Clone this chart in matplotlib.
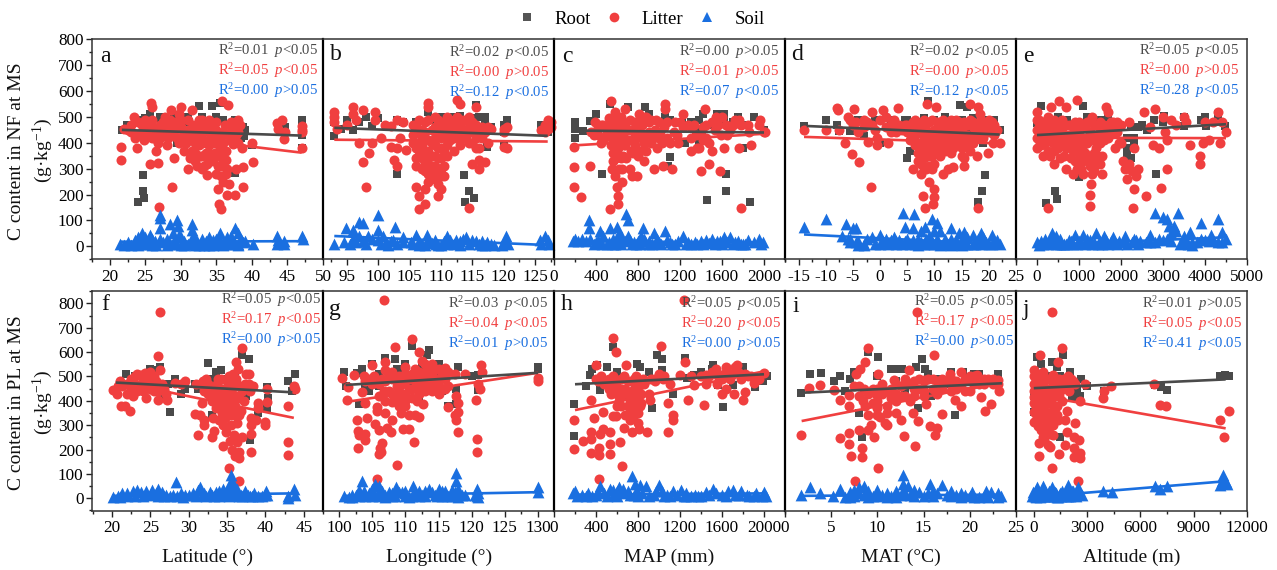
import matplotlib
matplotlib.use("Agg")
import matplotlib.pyplot as plt
from matplotlib.lines import Line2D
from matplotlib.ticker import MultipleLocator

plt.rcParams['font.family'] = ['Liberation Serif', 'DejaVu Serif']
plt.rcParams['mathtext.fontset'] = 'custom'
plt.rcParams['mathtext.rm'] = 'Liberation Serif'
plt.rcParams['mathtext.it'] = 'Liberation Serif:italic'
plt.rcParams['mathtext.bf'] = 'Liberation Serif:bold'
plt.rcParams['axes.unicode_minus'] = False

GREY, RED, BLUE = '#4a4a4a', '#f03f3f', '#1a6fe0'
W, H = 1277, 570

# ---------- panel a
a_root = [(21.7,450),(22.4,470),(24.6,490),(25.7,510),(27.2,495),(28.5,470),(30,495),(31.2,480),(32.5,543),(34.4,543),(34.8,480),(35.5,555),(37.6,490),(38.8,460),(38.9,425),(40,390),(44.6,460),(47,490),(47,470),(47,430),(47,380),(24.7,275),(24.7,215),(24,170),(24.8,185),(37.6,282),(33,460),(26.5,440),(36,370),(29.5,400),(23,470),(25,495),(27,500),(29,505),(31,500),(33,500),(35,500),(36,490),(38,480),(39,450),(38.5,420)]
a_litter = [(21.6,335),(21.6,385),(22,455),(23.4,500),(23.8,380),(24,480),(24.5,470),(25,490),(25.6,320),(25.8,555),(26,540),(26.2,420),(26.5,370),(26.8,322),(26.9,152),(27,470),(27.5,480),(28,390),(28.6,525),(28.8,228),(29,340),(29.2,480),(29.7,510),(29.8,400),(30,540),(30.5,370),(31,300),(31.2,420),(31.5,525),(32,360),(32.3,310),(32.5,490),(33,450),(33.3,310),(33.5,400),(33.7,275),(34,490),(34,360),(34.3,420),(35,480),(35,280),(35.2,220),(35.4,165),(35.6,145),(35.8,560),(35.5,350),(35.7,310),(36,400),(36,250),(36.4,335),(36.5,200),(36.7,545),(36.8,240),(37,440),(37.3,395),(37.6,200),(37.8,300),(38,490),(38,400),(38.6,380),(38.7,305),(38.8,228),(40.2,325),(40,400),(43.5,475),(43.6,455),(44.2,490),(44.5,415),(44.7,440),(47,380),(47,440),(47,465),(47,450),(23,440),(24,430),(25,440),(26,460),(27,420),(28,460),(29,430),(30,460),(31,490),(31.5,370),(32,430),(33,490),(33,350),(34.5,330),(35,430),(32.5,390),(33.8,450),(36.2,470),(37,480)]
a_litter2 = [(22.5,450),(23,470),(23.5,420),(24.5,440),(24.8,410),(25.3,460),(25.5,425),(26,490),(26.5,440),(26.8,400),(27.5,440),(27.8,500),(28.2,420),(28.5,490),(29,460),(29.5,420),(30,490),(30.3,430),(30.7,400),(31,450),(31.3,340),(31.7,470),(32,400),(32,330),(32.3,460),(32.7,350),(33,420),(33,300),(33.3,470),(33.5,360),(33.7,320),(34,440),(34,390),(34.5,470),(34.7,400),(34.8,360),(35,450),(35.2,310),(35.5,420),(35.5,380),(35.8,340),(36,440),(36.3,370),(36.5,300),(36.7,430),(37,410),(37.3,460),(37.7,430),(38,440),(38.3,470),(35.7,270),(36,320),(36.3,280),(31.5,450),(33,400),(34,330),(32.5,440),(30,420),(28.5,450),(26,420)]
a_soil = [(21.5,10),(22.5,15),(23.5,25),(24,15),(24.6,50),(25,20),(25.7,45),(26.4,20),(27,120),(27,110),(27,70),(27.1,30),(28.5,85),(28.9,50),(29.5,100),(29.6,80),(29.7,45),(30.5,20),(31.5,85),(31.6,65),(31.7,40),(32.3,20),(33,30),(33.5,20),(34,35),(34.5,25),(35.5,50),(36,15),(36.5,35),(37,25),(37.6,70),(38,50),(38.5,30),(39,20),(40.2,10),(43.5,40),(43.6,25),(44.5,20),(47,40),(47.2,30),(24,5),(26,5),(28,5),(30,5),(32,5),(34,5),(36,5),(38,5)]
a_soil2 = [(22,5),(23,5),(24.5,10),(25.5,10),(26.5,5),(27.5,15),(28.5,10),(29,20),(29.5,8),(30.5,5),(31,10),(31.5,15),(32.5,5),(33.2,5),(33.8,8),(34.5,5),(35,10),(35.5,20),(36.5,8),(37,10),(37.5,15),(38,10),(38.7,15),(43.5,10),(44.5,8),(26,30),(28,30),(30,35),(32,30),(35,30),(37,40),(24,35),(25,35)]
a_root_fit = [(21.7,450),(47,428)]
a_litter_fit = [(21.7,445),(47,362)]
a_soil_fit = [(21.5,18),(47,20)]

# ---------- panel b
b_root = [(93,425),(93,480),(94,455),(96,450),(97,480),(99,465),(100,495),(102,460),(103,280),(103,490),(104,480),(106,475),(107,340),(108,520),(108.5,490),(110,495),(112,500),(113,450),(113.7,275),(113.8,170),(114.5,215),(115.3,185),(115.5,545),(116,500),(117,500),(117.3,385),(118,460),(120.5,490),(120,390),(120,440),(126,470),(127,440),(127.5,480),(95,490),(98,500),(106,480),(110,500),(113,505),(115,495),(117,480),(120,470),(126,460)]
b_litter = [(93,520),(93,500),(93,480),(93.5,455),(95,470),(96,540),(96,510),(96.5,490),(97,400),(97.5,325),(97.5,525),(98,228),(98.5,360),(99,400),(99.5,520),(99.5,490),(100.5,420),(101,470),(102,465),(102,385),(102.5,335),(103,380),(103,310),(103,488),(103.5,420),(104,480),(104.5,372),(106,310),(106,230),(106.5,195),(106.5,145),(107.5,220),(107.5,165),(108,555),(108,540),(109.5,195),(109.5,240),(110,220),(110.5,270),(113,550),(112.5,565),(114.5,150),(115.5,540),(115,320),(116,335),(116,300),(117,325),(117.5,460),(117.5,400),(118,455),(120,455),(120,385),(120.5,380),(120.5,460),(120,440),(126,450),(126.5,470),(127,490),(127,455),(127.5,480),(127.5,460),(126.5,440),(106,470),(107,420),(107.5,360),(108,300),(108.5,450),(109,390),(109.5,340),(110,460),(110.5,310),(111,420),(111.5,490),(112,370),(112,460),(113,420),(113.5,490),(114,450),(114.5,400),(115,480),(115.5,420),(116,380),(109,280),(108,250),(106.5,400),(105.5,430),(106,340),(107,300),(110,380),(109,500),(108.5,350),(107.5,480)]
b_litter2 = [(105.5,470),(106,440),(106,400),(106.5,370),(106.5,490),(107,450),(107,390),(107,340),(107.5,440),(107.5,320),(108,490),(108,410),(108,370),(108,340),(108.5,400),(108.5,310),(108.5,280),(109,460),(109,420),(109,350),(109,310),(109.5,490),(109.5,430),(109.5,380),(109.5,300),(110,420),(110,340),(110,300),(110.5,480),(110.5,430),(110.5,370),(111,460),(111,390),(111,500),(111.5,450),(111.5,410),(112,490),(112,420),(112.5,470),(112.5,430),(112.5,500),(113,460),(113,390),(113.5,450),(114,490),(114,420),(114.5,500),(114.5,460),(115,440),(115,400),(115.5,470),(115.5,380),(116,440),(116.5,420),(116.5,460),(117,440),(105.5,400),(106,380),(108,280),(107.5,290),(109,260),(111,350),(110,270)]
b_soil = [(93,10),(94.8,70),(96,65),(97,95),(97.6,90),(96.5,15),(98.3,40),(100,120),(100,65),(100.7,40),(101.3,15),(102.7,75),(103.9,35),(102.4,25),(105.2,15),(106,45),(107.8,45),(109.2,10),(111,40),(112.4,25),(114,35),(115.6,20),(117.4,15),(120.3,40),(119.7,5),(125.7,25),(126.6,40),(127.2,10),(106.5,5),(110,5),(113,5),(116.5,5)]
b_soil2 = [(94.5,15),(95.5,10),(96,30),(97,40),(97.5,20),(98,10),(99,30),(100,25),(100.5,10),(101.5,5),(102,20),(103,10),(104,15),(105.5,8),(106.5,20),(107,10),(107.5,5),(108,25),(108.5,12),(109,25),(109.5,5),(110.5,20),(111,8),(111.5,25),(112,8),(113,20),(113.5,30),(114.5,10),(115,25),(116,10),(116.5,20),(117,5),(118,8),(118.5,5),(120,15),(120.7,10),(126,8),(127,25)]
b_root_fit = [(93,458),(127,427)]
b_litter_fit = [(93,412),(127,405)]
b_soil_fit = [(93,40),(127,5)]

# ---------- panel c
c_root = [(200,480),(200,455),(200,420),(280,445),(340,485),(530,550),(700,540),(870,540),(1060,500),(1060,470),(460,280),(1100,345),(1220,480),(1250,400),(1350,450),(1380,400),(1380,490),(1460,180),(1640,280),(1640,215),(1620,490),(1700,480),(1870,170),(1830,470),(1800,380),(1960,480),(2000,450),(1090,310),(600,380),(800,480),(1500,470),(400,510),(600,500),(900,510),(1100,490),(1300,480),(1420,510),(1550,510),(1620,510),(1750,500),(1900,500)]
c_litter = [(190,385),(190,305),(190,228),(260,190),(340,310),(390,480),(420,460),(450,400),(470,470),(520,495),(530,145),(540,560),(550,300),(560,330),(570,480),(580,270),(580,520),(600,400),(600,230),(610,195),(610,165),(620,300),(640,500),(650,250),(660,350),(680,530),(700,450),(720,300),(740,270),(760,420),(780,470),(790,270),(810,510),(820,370),(840,470),(860,330),(880,430),(900,480),(920,400),(950,300),(960,450),(1000,420),(1040,310),(1060,550),(1060,530),(1080,420),(1120,300),(1140,440),(1180,400),(1230,510),(1280,470),(1300,370),(1350,430),(1380,380),(1400,290),(1420,410),(1440,530),(1450,470),(1480,320),(1500,370),(1540,500),(1580,290),(1590,430),(1620,380),(1640,470),(1680,450),(1760,380),(1760,490),(1780,150),(1860,440),(1880,390),(1960,490),(2000,440),(1950,470),(2010,440),(1300,460),(1200,480),(680,390),(750,360),(830,430),(600,460),(500,440),(550,420),(640,340),(880,500),(1000,480),(580,370)]
c_litter2 = [(350,440),(380,430),(420,430),(450,470),(480,420),(520,450),(540,480),(540,390),(560,440),(560,360),(590,490),(590,420),(590,340),(610,380),(620,450),(620,350),(630,410),(650,480),(650,300),(660,430),(670,390),(680,470),(690,340),(710,410),(720,490),(730,370),(740,450),(770,480),(770,390),(790,440),(800,350),(820,490),(840,420),(860,400),(860,500),(880,370),(900,440),(920,490),(940,420),(970,490),(980,380),(1010,440),(1030,400),(1050,460),(1080,480),(1100,400),(1150,480),(1170,430),(1230,460),(1300,420),(1330,470),(1360,380),(1400,430),(1420,460),(1450,420),(1480,400),(1500,480),(1530,450),(1560,470),(1600,500),(1650,430),(1700,470),(1720,490),(1780,470),(1850,470)]
c_soil = [(180,20),(200,30),(270,30),(330,100),(330,70),(340,30),(400,15),(440,60),(470,40),(530,70),(560,30),(600,75),(620,50),(650,35),(690,125),(700,100),(700,40),(760,15),(830,40),(850,70),(870,20),(950,50),(1000,15),(1060,60),(1100,15),(1230,40),(1280,15),(1340,15),(1400,20),(1450,25),(1500,30),(1550,20),(1620,35),(1680,35),(1720,15),(1800,10),(1850,25),(1950,30),(1990,15),(500,10),(580,8),(900,10),(1150,8),(1600,8),(1780,8)]
c_soil2 = [(230,20),(300,20),(380,10),(420,25),(460,10),(520,15),(560,10),(600,30),(640,10),(680,20),(720,25),(740,10),(780,8),(800,20),(820,8),(860,30),(900,20),(930,10),(980,30),(1020,8),(1080,25),(1120,8),(1180,20),(1260,10),(1300,8),(1360,8),(1420,8),(1480,12),(1530,10),(1580,20),(1650,15),(1700,10),(1750,20),(1820,10),(1900,15),(1970,8)]
c_root_fit = [(270,447),(2000,440)]
c_litter_fit = [(190,390),(2000,435)]
c_soil_fit = [(180,20),(2000,15)]

# ---------- panel d
d_root = [(-14,465),(-10,490),(-8,470),(-7.5,445),(-5.5,445),(-3,425),(-1,490),(0,400),(3,460),(4.5,490),(5,340),(5.5,370),(8.8,560),(10,490),(12,485),(14.7,545),(16,540),(18,170),(18.8,215),(19.3,275),(21,490),(22,450),(19,400),(7.5,480),(15,490),(18,470),(16,450),(12,430),(10,380),(-2,470),(-4,490),(2,490),(5,490),(8,495),(12,500),(14,490),(17,495),(20,490)]
d_litter = [(-14,448),(-10,450),(-8,535),(-7.8,525),(-7.5,450),(-6.5,400),(-6,500),(-5.5,490),(-5.2,355),(-4.8,530),(-4.5,480),(-3.8,325),(-3,490),(-2.5,480),(-2.3,405),(-1.7,228),(-1.5,520),(-1,450),(-0.6,390),(0.5,525),(1,500),(1.5,400),(2,470),(3,440),(3.3,535),(5,470),(5,440),(6,480),(6,300),(6.5,390),(7,330),(7.5,280),(7.8,195),(8,420),(8.3,150),(8.7,550),(9,350),(9,250),(9.3,440),(9.5,300),(9.7,165),(10,220),(10,190),(10.2,540),(10.5,430),(11,480),(11,380),(11.5,280),(12,370),(12.5,300),(13,450),(13.5,305),(14,490),(14,400),(15,440),(15.5,340),(15.5,310),(16,430),(16.5,550),(17,460),(17.8,350),(18,150),(18,540),(18.3,510),(19,470),(19.8,360),(20.5,480),(20.7,400),(21,430),(22,400),(7,440),(8,380),(9,480),(10,400),(11,440),(12,440),(13,390),(14,470),(15,400),(16,390),(17,420),(18,470),(19,420),(20,440),(8.5,300),(8,470),(21.5,450),(6,420)]
d_litter2 = [(-5,470),(-4,440),(-3,460),(-1.5,470),(-0.5,420),(0,490),(1,460),(2,440),(2.5,490),(3.5,470),(4,450),(4.5,470),(5.5,410),(6,450),(6.5,490),(6.5,430),(7,470),(7,400),(7,360),(7.5,440),(7.5,320),(8,490),(8,340),(8,300),(8.5,450),(8.5,400),(8.5,360),(9,420),(9,380),(9,310),(9.5,490),(9.5,400),(9.5,350),(10,450),(10,370),(10,320),(10.5,480),(10.5,390),(11,460),(11,410),(11.5,490),(11.5,420),(12,480),(12,400),(12.5,460),(12.5,410),(13,490),(13,420),(13.5,470),(13.5,380),(14,440),(14.5,480),(14.5,420),(15,470),(15,380),(15.5,480),(15.5,430),(16,470),(16,400),(16.5,490),(16.5,420),(17,480),(17,400),(17.5,440),(18,420),(18.5,490),(18.5,450),(19.5,470),(20,490),(21,470),(7.5,390),(11,350),(13,360),(15,350),(16.5,370)]
d_soil = [(-14,75),(-10,105),(-6.3,85),(-5,70),(-4.5,70),(-6,30),(-7,40),(-5.5,15),(-4,20),(-3,10),(-2.5,30),(-1.5,35),(0,45),(0.5,20),(1,30),(2.5,35),(3,20),(4.2,130),(4.5,75),(4.5,20),(5,30),(6,70),(6.2,125),(7,30),(7.5,60),(8.2,75),(9,40),(9.5,105),(10,60),(10.5,90),(10.7,15),(11,60),(12,15),(13,70),(13.5,10),(14.5,50),(15.5,55),(15.5,10),(17,45),(18.5,50),(17,10),(19,35),(20.5,45),(20,10),(21,20),(22,10),(7,5),(11,5),(13,5),(15,5)]
d_soil2 = [(-4,5),(-3,5),(-1,10),(0,8),(1.5,8),(2,25),(3,8),(3.5,25),(4,10),(5.5,10),(6,25),(6.5,8),(7.5,15),(8,8),(8.5,30),(9,10),(9.5,20),(10,8),(10.5,30),(11.5,10),(12,30),(12.5,8),(13,30),(14,8),(14,25),(15,30),(16,10),(16,35),(17.5,8),(18,30),(18.5,8),(19.5,15),(20.5,10),(21.5,25),(-5.5,30),(-4.5,15)]
d_root_fit = [(-13.5,465),(22,432)]
d_litter_fit = [(-14,423),(21.5,398)]
d_soil_fit = [(-14,46),(22,8)]

# ---------- panel e
e_root = [(96,541),(1100,541),(440,213),(215,168),(480,183),(2830,278),(1000,267),(2150,352),(2230,462),(2000,462),(2400,462),(2310,420),(2630,450),(2790,490),(3900,490),(4310,505),(4470,465),(4020,465),(3020,505),(3500,465),(0,475),(720,490),(1200,500),(1500,490),(2150,420),(2310,400),(2150,380),(2230,340),(2500,470),(3000,480),(3500,500),(4000,500),(4300,510),(500,500),(1700,500)]
e_litter = [(0,520),(50,490),(60,400),(100,470),(200,430),(250,150),(270,500),(300,350),(330,540),(350,480),(380,400),(400,320),(450,440),(500,470),(530,560),(550,340),(600,400),(700,540),(700,300),(700,430),(750,470),(800,340),(850,280),(900,420),(960,565),(1000,480),(1000,360),(1050,300),(1100,420),(1150,460),(1200,340),(1250,200),(1250,155),(1280,240),(1300,500),(1300,280),(1350,360),(1400,430),(1450,470),(1500,320),(1550,280),(1600,410),(1650,540),(1700,520),(1750,480),(1800,440),(1850,380),(1900,440),(1950,400),(2000,400),(2050,330),(2100,300),(2150,260),(2200,320),(2200,480),(2250,290),(2280,150),(2300,220),(2300,380),(2350,270),(2400,300),(2600,195),(2550,520),(2700,460),(2750,390),(2800,530),(2900,380),(2950,225),(3000,500),(3050,440),(3100,410),(3100,300),(3200,490),(3300,470),(3500,500),(3550,480),(3650,390),(3880,350),(3880,320),(3950,400),(4000,480),(4100,410),(4200,480),(4300,520),(4350,400),(4400,480),(4500,440),(150,350),(500,380),(800,470),(900,330),(1100,370),(1400,320),(1500,440),(1700,420),(300,410),(650,350),(1000,430)]
e_litter2 = [(0,490),(0,450),(0,420),(0,380),(50,460),(100,430),(100,390),(150,480),(150,440),(200,470),(200,400),(250,450),(250,370),(300,480),(300,440),(350,420),(400,490),(400,450),(400,370),(450,480),(450,400),(500,430),(550,470),(550,400),(600,490),(600,440),(650,420),(700,470),(700,380),(750,430),(800,400),(850,460),(850,370),(900,480),(950,440),(950,390),(950,300),(1000,330),(1050,470),(1050,400),(1100,330),(1100,280),(1150,420),(1150,360),(1200,480),(1200,400),(1250,440),(1250,310),(1300,410),(1300,340),(1350,470),(1350,290),(1400,380),(1450,350),(1500,480),(1500,400),(1550,440),(1550,350),(1600,470),(1650,430),(1700,470),(1750,440),(1800,480),(1850,450),(1900,480),(2000,470)]
e_soil = [(0,15),(100,20),(200,30),(300,25),(350,50),(450,40),(550,30),(650,10),(800,20),(900,45),(1000,20),(1100,45),(1200,30),(1400,50),(1500,20),(1600,40),(1800,35),(1700,10),(2100,40),(2300,30),(2600,15),(2700,45),(2800,130),(3000,115),(3100,105),(3150,80),(3200,50),(3350,130),(3300,60),(3400,10),(3500,40),(3700,15),(3650,55),(3900,90),(3900,30),(4150,45),(4300,105),(4300,15),(4400,55),(4500,30),(600,10),(1300,10),(1900,10),(2400,10),(3600,10),(4000,25)]
e_soil2 = [(50,5),(150,10),(250,10),(350,15),(450,10),(550,8),(700,8),(750,25),(850,10),(950,10),(1050,15),(1150,10),(1250,25),(1350,15),(1450,10),(1550,10),(1650,25),(1750,20),(1850,15),(1950,20),(2050,15),(2150,10),(2250,15),(2350,25),(2450,20),(2700,15),(2800,15),(2900,30),(3000,25),(3100,30),(3200,20),(3500,15),(3700,5),(3800,15),(4100,20),(4200,25),(4400,15),(3250,80)]
e_root_fit = [(0,430),(4500,472)]
e_litter_fit = [(0,420),(4500,418)]
e_soil_fit = [(0,5),(4500,35)]

# ---------- panel f
f_root = [(21,460),(21.8,510),(22.5,440),(25.5,525),(26.3,540),(26.7,410),(27.3,470),(27.6,355),(28.2,490),(29,430),(29.5,450),(30.8,470),(31.2,450),(32.5,555),(33,340),(33.5,520),(34.2,525),(35,490),(35.5,360),(36.3,470),(37,590),(37.5,420),(37.8,570),(38,240),(38.3,460),(39,380),(39,350),(40.2,455),(40.3,410),(40.2,370),(42.9,480),(43.8,510),(43.5,440),(23,500),(25,530),(33,490),(36,500)]
f_litter = [(20.2,445),(20.6,430),(21,480),(21.2,380),(21.7,380),(21.9,430),(22.3,360),(22.5,490),(22.7,420),(23,500),(23.3,510),(23.5,460),(23.8,505),(24,440),(24.3,515),(24.5,410),(24.7,490),(25,520),(25.3,470),(25.5,440),(25.8,480),(26,405),(26,585),(26.3,765),(26.3,525),(26.5,470),(26.8,450),(27.2,405),(28.2,475),(29,470),(29.5,480),(30.8,345),(31,470),(31.2,260),(31.5,340),(31.7,390),(31.9,480),(32,300),(32,320),(32.3,490),(32.5,430),(33,250),(33.3,275),(33.5,370),(33.7,470),(34,320),(34,440),(34.2,490),(34.5,300),(34.5,215),(34.7,380),(34.8,270),(35,480),(35,400),(35,340),(35.2,125),(35.4,235),(35.5,300),(35.5,440),(35.7,200),(35.8,510),(35.9,260),(36,380),(36,175),(36.2,560),(36.3,310),(36.3,230),(36.4,530),(36.5,72),(36.6,190),(36.6,165),(37,615),(37,250),(37.4,470),(37.5,510),(37.8,510),(38.1,330),(38.1,300),(38.1,265),(38.1,188),(38.4,460),(38.8,320),(39,390),(39,370),(40,315),(40,300),(40.2,395),(40.2,450),(42.9,380),(42.9,230),(42.9,177),(43.7,460),(43.8,450),(33,400),(33.8,420),(34.4,350),(34.9,430),(35.3,360),(35.6,390),(35.8,470),(36.2,420),(36.7,460),(36.6,340)]
f_litter2 = [(20.8,460),(21.3,460),(22,470),(22.5,450),(23,470),(23.3,440),(24,480),(24.5,460),(25,450),(25.5,500),(26,440),(27,430),(31.5,470),(32,440),(32.5,470),(33,440),(33.2,330),(33.5,420),(33.8,490),(34,370),(34,400),(34.3,450),(34.5,420),(34.7,330),(35,450),(35.2,500),(35.3,420),(35.5,340),(35.7,430),(36,460),(36,340),(36.2,490),(36.5,410),(36.8,360),(37,440),(37.2,400),(37.8,470),(38,440)]
f_soil = [(20.2,5),(20.8,10),(21.3,20),(22,10),(22.7,30),(23.3,35),(23.8,25),(24.4,30),(25.2,35),(25.8,20),(26,40),(26.5,25),(27,15),(28.3,65),(28,15),(29,20),(29.5,15),(31.2,35),(31.5,45),(31.7,15),(32.3,10),(33,15),(33.5,25),(34,30),(34.5,40),(34.8,15),(35.2,55),(35.5,95),(35.6,70),(35.8,45),(36,20),(36.3,40),(36.8,15),(37.3,30),(38,10),(38.5,20),(39,10),(40.1,30),(40.2,12),(42.9,0),(43.7,40),(43.8,15)]
f_soil2 = [(21,5),(22,20),(23,10),(24,10),(25,15),(26,8),(26.8,8),(27.5,8),(28.5,8),(29.2,5),(30,15),(31,10),(32,20),(32.8,25),(33.3,8),(34,10),(34.3,15),(35,30),(35.3,10),(35.7,15),(36,30),(36.6,8),(37,10),(37.7,15),(38.2,8),(39.5,8),(40,15),(43,10),(30.5,20)]
f_root_fit = [(20.5,475),(43.5,435)]
f_litter_fit = [(20.5,480),(43.7,330)]
f_soil_fit = [(20,10),(43.5,20)]

# ---------- panel g
g_root = [(100.7,520),(101,460),(102.7,515),(103,385),(103.5,530),(104,460),(104.6,440),(105,550),(105.8,495),(106,460),(107,575),(108.5,570),(108.7,530),(109,410),(110,550),(111,625),(111,470),(112,400),(113.2,590),(113.5,610),(114,500),(115,550),(115.5,440),(116.5,380),(117.7,450),(118,540),(121,505),(121,445),(130,540),(130,530),(117.7,385),(112.5,540),(106,510),(110,530),(115,500),(120,500)]
g_litter = [(100.5,495),(101.2,405),(101.4,455),(102.3,505),(102.7,320),(102.8,275),(102.8,205),(103,260),(103.5,435),(103.8,500),(104,240),(104,265),(104,390),(104.2,330),(104.5,490),(105,545),(105.3,500),(105.5,305),(105.7,375),(105.7,360),(105.8,80),(106,280),(106,180),(106.2,205),(106.3,190),(106.5,225),(106.8,813),(106.8,440),(106.9,560),(107,350),(107,525),(107.2,290),(107.5,510),(107.8,270),(108,395),(108,320),(108.5,622),(108.7,135),(108.7,460),(109,380),(109.3,350),(109.5,420),(109.7,285),(110,480),(110,510),(110,380),(110.5,340),(110.5,285),(111,655),(111.3,230),(111.5,340),(111.5,480),(112,600),(112,335),(112,520),(112.5,565),(112.7,385),(113,490),(113.5,540),(114,440),(114,510),(114.5,470),(115,530),(115.5,450),(116,535),(116.5,375),(116.5,460),(117.5,510),(117.5,340),(117.7,420),(117.7,320),(118,390),(118,355),(118,273),(119,510),(120.7,405),(120.8,245),(120.8,188),(121,470),(121.2,450),(121.4,545),(121.5,520),(130,495),(130,482),(109,500),(110.5,450),(111,510),(112,460),(113,520),(113.5,470),(115,490),(116,490),(108,490),(107,480),(111.7,400),(110,430),(109,440),(114,550)]
g_litter2 = [(106,470),(106.5,490),(107.5,440),(108,520),(108.5,490),(109.5,470),(110,540),(110.5,490),(111,450),(111.5,530),(112,490),(112.5,460),(113,550),(113,460),(113.5,500),(114,480),(114.5,530),(115,460),(115.5,510),(116,450),(116.5,520),(109,410),(110,400),(111,410),(108,430),(107,400),(106,420),(112,430),(113,440),(115,430),(104,480),(105,470)]
g_soil = [(100.7,10),(101.5,5),(102.5,15),(103.5,70),(103.8,30),(104.5,20),(105,40),(105.5,60),(106,50),(106.5,30),(107,15),(108,20),(108.6,45),(109.5,25),(110,10),(111.2,50),(111.5,25),(112.5,15),(113.5,40),(114.5,15),(115,40),(116,30),(117,35),(117.7,105),(117.7,70),(117.9,40),(118.5,15),(119,15),(120.8,40),(120.8,10),(121,20),(130,45),(130,25),(102,5),(106,10),(110,30),(113,10),(115.5,10),(108,8)]
g_soil2 = [(102,15),(103,10),(104,10),(105,10),(106,25),(107,5),(107.5,25),(108.5,10),(109,25),(110,20),(110.5,5),(111,10),(112,30),(112,8),(113,30),(114,25),(114.8,10),(115.5,30),(116.5,10),(117,10),(117.5,25),(118,5),(121,5),(120.5,15),(103,35),(105,25)]
g_root_fit = [(101,465),(130,515)]
g_litter_fit = [(101,395),(130,515)]
g_soil_fit = [(101,10),(130,25)]

# ---------- panel h
h_root = [(190,386),(190,256),(340,505),(405,546),(300,460),(500,540),(565,620),(790,553),(820,540),(980,590),(1025,570),(1025,525),(930,370),(680,415),(1250,575),(1265,495),(1330,505),(1135,430),(1510,545),(1565,465),(1610,375),(1800,540),(1915,455),(1995,480),(440,445),(2030,500),(1700,465),(360,530),(600,520),(900,520),(1400,520),(1500,530),(1750,510)]
h_litter = [(190,321),(190,202),(280,236),(350,186),(350,272),(350,243),(350,402),(380,330),(400,546),(430,208),(430,178),(430,79),(440,262),(470,285),(470,354),(530,270),(530,222),(530,180),(560,339),(560,658),(590,600),(590,339),(630,232),(645,134),(665,290),(685,546),(720,320),(740,272),(770,402),(810,283),(820,464),(890,272),(915,402),(1020,624),(1085,392),(1085,270),(1130,341),(1130,320),(1200,505),(1240,813),(1250,558),(1280,402),(1330,464),(1430,382),(1450,505),(1600,430),(1640,450),(1710,430),(1800,405),(1820,435),(1900,475),(2000,516),(1740,548),(1640,540),(420,480),(480,470),(520,450),(570,480),(600,430),(640,490),(680,450),(700,480),(740,430),(760,490),(790,440),(830,390),(860,470),(900,430),(950,490),(1000,510),(1040,490),(760,340),(640,380),(800,350),(700,380),(1300,500),(1500,520),(1560,500),(1620,510),(1680,490),(1750,520),(1780,490),(1850,500),(1950,490),(1450,470),(1550,470)]
h_litter2 = [(400,490),(450,500),(500,470),(520,490),(540,430),(560,500),(580,460),(600,480),(620,400),(650,450),(670,500),(700,430),(720,400),(740,480),(760,450),(780,500),(790,400),(810,470),(830,430),(850,490),(870,480),(920,490),(960,480),(1050,500),(1100,470),(1400,500),(1480,500),(1540,530),(1600,490),(1650,520),(1700,510),(1720,540),(1770,510),(1820,510),(1880,500),(600,380),(640,420),(680,340),(720,350),(760,380),(800,310),(820,380)]
h_soil = [(180,20),(200,30),(270,15),(320,20),(400,15),(440,50),(480,20),(530,40),(560,35),(620,45),(660,40),(700,30),(745,90),(770,60),(790,30),(820,55),(880,50),(950,15),(1000,55),(1030,30),(1130,30),(1210,35),(1260,20),(1340,15),(1450,25),(1510,40),(1600,15),(1700,35),(1780,30),(1840,15),(1920,20),(2000,25),(2020,10),(600,10),(800,10),(1100,8),(1400,8),(1900,8)]
h_soil2 = [(220,10),(300,8),(360,10),(420,25),(500,10),(560,15),(600,30),(650,20),(720,15),(760,15),(840,20),(900,10),(970,30),(1050,10),(1080,15),(1170,15),(1240,10),(1300,10),(1370,10),(1480,15),(1540,20),(1640,10),(1660,30),(1720,15),(1760,15),(1860,10),(1980,10),(1260,8)]
h_root_fit = [(200,468),(2000,509)]
h_litter_fit = [(200,362),(2000,521)]
h_soil_fit = [(180,15),(2000,20)]

# ---------- panel i
i_root = [(1.7,433),(2.7,510),(3.9,515),(5.3,480),(6,500),(6.5,440),(7,490),(8.3,250),(8,350),(9,600),(10.1,580),(11.5,530),(12,530),(12.7,530),(13,440),(14.2,540),(14.8,570),(15.2,530),(15.8,420),(16.5,490),(18.4,340),(17.8,470),(19.3,520),(20.5,510),(23,510),(14.4,370),(7.5,520),(10,500),(12,480),(15.5,510),(18,520),(21,510)]
i_litter = [(1.7,260),(2.6,454),(3.8,464),(5.3,444),(6,405),(6,246),(6.9,424),(6.9,378),(6.9,266),(6.9,222),(7.1,175),(7.6,70),(7.7,512),(8.1,532),(8.3,205),(8.3,170),(8.4,400),(8.7,560),(9,615),(9.6,252),(9.8,430),(10.1,123),(10.1,512),(10.3,335),(11,300),(11.8,485),(12.5,320),(12.9,257),(13.4,525),(13.9,350),(14.1,215),(14.3,765),(14.4,317),(15,486),(15.3,385),(15.7,296),(16.1,587),(16.2,260),(16.5,287),(17,347),(17,480),(17.9,512),(18.4,403),(19,378),(19,520),(20,486),(20.8,505),(21.2,417),(21.6,360),(22.3,385),(23,486),(23.2,440),(7.5,460),(8,420),(8.7,380),(9,340),(9.5,450),(10,400),(10.5,470),(11,380),(11.5,450),(12,350),(12,470),(12.5,420),(13,490),(13.5,400),(14,480),(14.5,450),(15,420),(16,490),(16.5,430),(17,450),(18,470),(18.5,480),(19.5,440),(20.5,470),(21.5,490),(22.5,470),(20,440),(9.3,300),(10,370),(9,280),(8,280),(10.8,310)]
i_litter2 = [(13,470),(13.5,470),(14,450),(14.5,490),(15,480),(15.5,490),(16,450),(16.5,480),(17,490),(17.5,480),(18,490),(18,440),(18.5,450),(19,470),(19.5,490),(20,500),(20.5,500),(21,470),(21.5,470),(22,490),(22.5,490),(23,470),(10,450),(10.5,430),(11,440),(11.5,410),(12,430),(12.5,460),(9,430),(9.5,390),(10,340),(11,350),(12,400),(13,420),(14,420),(15,440),(8.5,450),(8,460)]
i_soil = [(1.7,15),(2.7,45),(3.8,20),(5.2,10),(6,40),(7,25),(7.5,35),(8,45),(8.5,50),(9,30),(10,35),(11,20),(12,30),(12.8,95),(12.8,60),(13.3,50),(14,35),(15.7,60),(16,30),(17,55),(18,30),(18.5,15),(19.5,15),(20.2,25),(21.7,30),(22.3,25),(23,20),(23.4,10),(7,5),(9,5),(11,5),(14,10),(16,8),(19,5),(21,5)]
i_soil2 = [(7.5,10),(8,20),(8.5,15),(9.5,10),(10.5,15),(11.5,10),(12,5),(12.5,15),(13,20),(13.5,15),(14.5,25),(15,10),(15.5,20),(16.5,20),(17.5,15),(18,10),(19,20),(20,10),(20.5,5),(21.5,10),(22,5),(23,5),(7,15),(6.5,5),(10,10),(12.8,30),(14,25)]
i_root_fit = [(1.8,433),(23.5,472)]
i_litter_fit = [(1.8,317),(23.5,478)]
i_soil_fit = [(1.8,10),(23.5,15)]

# ---------- panel j
j_root = [(190,578),(60,520),(1000,560),(1670,590),(2050,520),(2660,490),(3000,460),(2150,415),(1480,250),(0,355),(2620,420),(3950,440),(6800,465),(7140,455),(7520,445),(10500,500),(10750,505),(11010,500),(0,420),(1290,540),(2430,440),(720,500),(100,480),(400,550),(1500,500),(2000,480)]
j_litter = [(1000,765),(1610,615),(340,587),(1390,560),(530,520),(1100,505),(0,525),(0,470),(0,415),(0,355),(0,315),(250,297),(300,227),(300,175),(530,250),(910,265),(910,212),(1000,123),(1440,183),(1390,320),(1770,320),(1860,360),(1770,220),(1860,270),(2240,250),(2240,205),(2240,170),(2340,307),(2525,240),(2620,185),(2620,165),(2490,70),(2620,400),(2900,468),(3890,413),(3950,440),(4370,460),(6760,470),(7080,383),(7460,378),(10500,320),(10690,250),(10980,358),(100,480),(200,440),(300,400),(400,470),(500,430),(600,380),(700,490),(800,440),(900,400),(1000,350),(1100,460),(1200,420),(1300,380),(1400,490),(1500,440),(1600,400),(1800,480),(2000,440),(100,350),(500,330),(700,300),(900,330),(1100,300),(1300,340),(200,380),(600,280),(800,220),(2100,490),(1900,500),(100,420),(500,500),(900,490),(1300,480),(1700,460),(2300,470)]
j_litter2 = [(0,500),(0,440),(0,390),(100,510),(100,450),(100,380),(100,320),(200,490),(200,340),(300,450),(300,360),(400,510),(400,420),(400,330),(500,470),(500,400),(600,490),(600,430),(600,340),(700,450),(700,390),(800,490),(800,400),(800,350),(800,280),(900,450),(1000,480),(1000,410),(1000,300),(1100,430),(1100,380),(1200,480),(1200,370),(1300,450),(1400,420),(1500,480),(1600,450),(1700,490),(1900,470),(2200,480),(400,280),(600,240),(1100,260)]
j_soil = [(-100,10),(0,20),(100,35),(200,45),(300,25),(500,50),(700,20),(1000,45),(1200,25),(1400,15),(1600,30),(1900,55),(2000,25),(2200,30),(2500,45),(2700,15),(3900,30),(4400,25),(6800,50),(7100,40),(7500,50),(10500,55),(10650,95),(10800,65),(10900,60),(10600,70),(400,8),(800,8),(1300,5),(1800,8),(2400,10),(100,5)]
j_soil2 = [(-50,25),(50,10),(150,10),(250,20),(350,5),(450,20),(550,10),(650,30),(750,10),(850,30),(950,10),(1050,15),(1150,10),(1250,20),(1350,5),(1450,20),(1550,10),(1650,15),(1750,20),(1850,25),(1950,10),(2050,10),(2150,30),(2300,15),(2400,25),(2600,20)]
j_root_fit = [(0,452),(10800,488)]
j_litter_fit = [(0,425),(10800,287)]
j_soil_fit = [(0,5),(10800,70)]

# ---------- statistics text
a_stats = [('0.01','<'),('0.05','<'),('0.00','>')]
b_stats = [('0.02','<'),('0.00','>'),('0.12','<')]
c_stats = [('0.00','>'),('0.01','>'),('0.07','<')]
d_stats = [('0.02','<'),('0.00','>'),('0.12','<')]
e_stats = [('0.05','<'),('0.00','>'),('0.28','<')]
f_stats = [('0.05','<'),('0.17','<'),('0.00','>')]
g_stats = [('0.03','<'),('0.04','<'),('0.01','>')]
h_stats = [('0.05','<'),('0.20','<'),('0.00','>')]
i_stats = [('0.05','<'),('0.17','<'),('0.00','>')]
j_stats = [('0.01','>'),('0.05','<'),('0.41','<')]

X_LIMS = [(17.5,50),(91.2,128),(0,2200),(-17.5,25),(-500,5000),(17.4,47.5),(97.6,132.4),(0,2200),(0,25),(-1000,12000)]
X_TICKS = [list(range(20,51,5)),list(range(95,126,5)),list(range(0,2001,400)),list(range(-15,26,5)),list(range(0,5001,1000)),
           list(range(20,46,5)),list(range(100,131,5)),list(range(0,2001,400)),list(range(0,26,5)),list(range(0,12001,3000))]
X_MINOR = [2.5,2.5,200,2.5,500,2.5,2.5,200,2.5,1500]
X_LABELS = ['Latitude (°)','Longitude (°)','MAP (mm)','MAT (°C)','Altitude (m)']
X_LABEL_POS = [208,439,669,901,1132]
LETTERS = 'abcdefghij'
LETTER_POS = [(105,56),(336,55),(567,57),(797,55),(1028,56),(105,305),(335,309),(567,305),(796,307),(1026,309)]
STAT_POS = [(318,51),(549,53),(779,52),(1009,52),(1239,51),(321,300),(547.5,304),(781,304),(1014,302),(1242,304)]
EDGES = [92,323,554,785,1016,1247]

panels = [
 (a_root,a_litter+a_litter2,a_soil+a_soil2,a_root_fit,a_litter_fit,a_soil_fit,a_stats),
 (b_root,b_litter+b_litter2,b_soil+b_soil2,b_root_fit,b_litter_fit,b_soil_fit,b_stats),
 (c_root,c_litter+c_litter2,c_soil+c_soil2,c_root_fit,c_litter_fit,c_soil_fit,c_stats),
 (d_root,d_litter+d_litter2,d_soil+d_soil2,d_root_fit,d_litter_fit,d_soil_fit,d_stats),
 (e_root,e_litter+e_litter2,e_soil+e_soil2,e_root_fit,e_litter_fit,e_soil_fit,e_stats),
 (f_root,f_litter+f_litter2,f_soil+f_soil2,f_root_fit,f_litter_fit,f_soil_fit,f_stats),
 (g_root,g_litter+g_litter2,g_soil+g_soil2,g_root_fit,g_litter_fit,g_soil_fit,g_stats),
 (h_root,h_litter+h_litter2,h_soil+h_soil2,h_root_fit,h_litter_fit,h_soil_fit,h_stats),
 (i_root,i_litter+i_litter2,i_soil+i_soil2,i_root_fit,i_litter_fit,i_soil_fit,i_stats),
 (j_root,j_litter+j_litter2,j_soil+j_soil2,j_root_fit,j_litter_fit,j_soil_fit,j_stats),
]

fig = plt.figure(figsize=(W/100, H/100), dpi=100)

def fx(px): return px / W
def fy(py): return 1 - py / H

ROWS = [(39.3, 259.3, (-50, 800)), (290.7, 510.7, (-51, 852))]
S_SQ, S_C, S_T = 37, 52, 72

for n, p in enumerate(panels):
    row, col = divmod(n, 5)
    top, bot, ylim = ROWS[row]
    ax = fig.add_axes([fx(EDGES[col]), fy(bot), (EDGES[col+1]-EDGES[col])/W, (bot-top)/H])
    root, litter, soil, rf, lf, sf, stats = p
    for data, mk, c, s, z in ((root,'s',GREY,S_SQ,2),(litter,'o',RED,S_C,3),(soil,'^',BLUE,S_T,4)):
        xs, ys = zip(*data)
        ax.scatter(xs, ys, marker=mk, s=s, c=c, linewidths=0, zorder=z, clip_on=False)
    for fit, c, z in ((sf,BLUE,5),(lf,RED,6),(rf,GREY,7)):
        xs, ys = zip(*fit)
        ax.plot(xs, ys, color=c, lw=1.9, zorder=z, solid_capstyle='butt')
    ax.set_xlim(*X_LIMS[n]); ax.set_ylim(*ylim)
    ax.set_xticks(X_TICKS[n])
    ax.xaxis.set_minor_locator(MultipleLocator(X_MINOR[n]))
    ax.yaxis.set_major_locator(MultipleLocator(100))
    ax.yaxis.set_minor_locator(MultipleLocator(50))
    ax.tick_params(axis='x', which='major', length=4.0, width=1, labelsize=12.3, pad=3, color='#222222')
    ax.tick_params(axis='x', which='minor', length=2.2, width=1, color='#222222')
    if col == 0:
        ax.tick_params(axis='y', which='major', length=4.0, width=1, labelsize=12.3, pad=2, color='#222222')
        ax.tick_params(axis='y', which='minor', length=2.2, width=1, color='#222222')
    else:
        ax.tick_params(axis='y', which='both', left=False, labelleft=False)
    for name, sp in ax.spines.items():
        sp.set_color('#333333'); sp.set_linewidth(1.1); sp.set_zorder(10)
    if col > 0:
        ax.spines['left'].set_color('black'); ax.spines['left'].set_linewidth(1.6)
    ax.patch.set_alpha(0)
    lx, ly = LETTER_POS[n]
    fig.text(fx(lx), fy(ly), LETTERS[n], fontsize=17, color='#111111', ha='center', va='center', zorder=20)
    rx, ry = STAT_POS[n]
    for k, ((r2, sign), c) in enumerate(zip(stats, (GREY, RED, BLUE))):
        fig.text(fx(rx), fy(ry + 20*k),
                 r'R$^{\mathrm{2}}$=' + r2 + r'  $\mathit{p}$' + sign + '0.05',
                 fontsize=10.6, color=c, ha='right', va='center', zorder=20)

for yc, name in ((151, 'NF'), (403, 'PL')):
    fig.text(fx(17), fy(yc), f'C content in {name} at MS', rotation=90, fontsize=14, ha='center', va='center', color='#111111')
    fig.text(fx(43), fy(yc-1), r'(g·kg$^{\mathregular{-1}}$)', rotation=90, fontsize=14, ha='center', va='center', color='#111111')
for xc, name in zip(X_LABEL_POS, X_LABELS):
    fig.text(fx(xc), fy(557), name, fontsize=14, ha='center', va='center', color='#111111')

handles = [Line2D([], [], ls='', marker='s', color='#555555', ms=6.2, mew=0),
           Line2D([], [], ls='', marker='o', color=RED, ms=7, mew=0),
           Line2D([], [], ls='', marker='^', color=BLUE, ms=7.8, mew=0)]
fig.legend(handles, ['Root', 'Litter', 'Soil'], ncol=3, frameon=False, fontsize=13.5,
           loc='center', bbox_to_anchor=(fx(641), fy(19)), handlelength=1.0,
           handletextpad=0.95, columnspacing=0.78, borderpad=0, borderaxespad=0)

fig.savefig('out.png', dpi=100)
